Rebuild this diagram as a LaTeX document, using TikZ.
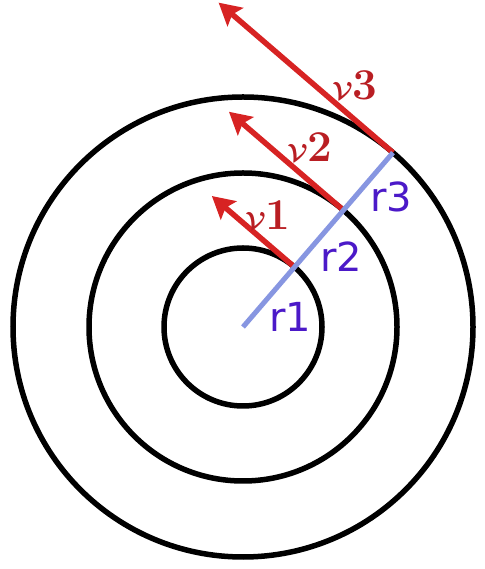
\documentclass[tikz,border=0pt]{standalone}
\usepackage{amsmath}
\usepackage{fontspec}
\newfontfamily\rfont{DejaVu Sans}
\usetikzlibrary{arrows.meta}
\usetikzlibrary{calc}
\usetikzlibrary{positioning}
\definecolor{vred}{RGB}{215,35,35}
\definecolor{vlabel}{RGB}{185,30,35}
\definecolor{rline}{RGB}{135,150,225}
\definecolor{rlabel}{RGB}{75,25,200}

\begin{document}
\begin{tikzpicture}[
  x=1pt, y=1pt,
  ring/.style = {draw=black, line width=5.5pt},
  radius line/.style = {draw=rline, line width=5pt},
  velocity/.style = {draw=vred, line width=5.5pt, -{Stealth[length=22pt,width=24pt,inset=4pt]}},
  vtext/.style = {text=vlabel, font=\fontsize{44}{44}\selectfont, inner sep=0pt},
  rtext/.style = {text=rlabel, font=\rfont\fontsize{40}{40}\selectfont, inner sep=0pt}
  ]
	\useasboundingbox (0,0) rectangle (484,569);

	\coordinate (O) at (243,242);

	% the three rings
	\draw[ring] (O) circle[radius=79];
	\draw[ring] (O) circle[radius=154];
	\draw[ring] (O) circle[radius=230];

	\coordinate (P1) at ($(O)+(49.3:79)$);
	\coordinate (P2) at ($(O)+(49.3:154)$);
	\coordinate (P3) at ($(O)+(49.3:230)$);

	\coordinate (T1) at ($(P1)+(139.3:109)$);
	\coordinate (T2) at ($(P2)+(139.3:151)$);
	\coordinate (T3) at ($(P3)+(139.3:230)$);

	\draw[velocity] (P1) -- (T1);
	\draw[velocity] (P2) -- (T2);
	\draw[velocity] (P3) -- (T3);

	\draw[radius line] (O) -- (P3);

	\node[vtext] (v1) at (268,354) {$\boldsymbol{\mathcal{V}}$\textbf{1}};
	\node[vtext] (v2) at (310,422) {$\boldsymbol{\mathcal{V}}$\textbf{2}};
	\node[vtext] (v3) at (355,484) {$\boldsymbol{\mathcal{V}}$\textbf{3}};

	\node[rtext] (r1) at (290,252) {r1};
	\node[rtext] (r2) at (341,312) {r2};
	\node[rtext] (r3) at (391,372) {r3};

\end{tikzpicture}
\end{document}
